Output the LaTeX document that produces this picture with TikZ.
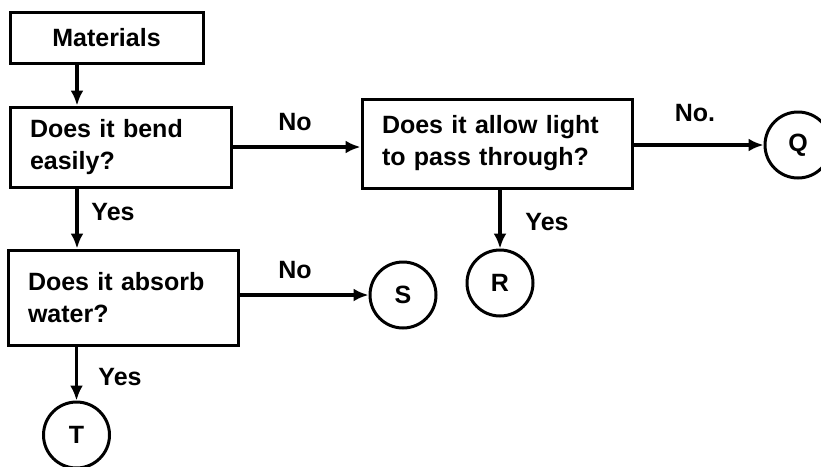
\documentclass[tikz,border=0pt]{standalone}
\usepackage{fontspec}
\setmainfont{Liberation Sans}
\usetikzlibrary{arrows.meta, positioning}

\begin{document}
\begin{tikzpicture}[
    x=1pt, y=-1pt,
    font=\fontsize{25}{32}\selectfont\bfseries,
    % Styles
    startbox/.style={rectangle, draw=black, line width=3pt, minimum width=193pt, minimum height=51pt, align=center},
    askbox/.style={rectangle, draw=black, line width=3pt, align=left, inner xsep=20pt, inner ysep=0pt},
    endcircle/.style={circle, draw=black, line width=3pt, minimum size=66pt, inner sep=0pt},
    arrow/.style={-{Latex[length=15pt, width=13pt]}, line width=3.4pt, color=black},
    lbl/.style={inner sep=0pt}
]

% Page frame
\useasboundingbox (0,0) rectangle (821,466);

% Start box
\node[startbox] (materials) at (106.5,37.5) {Materials};

% Question boxes
\node[askbox, text width=181pt, minimum height=80pt] (bend) at (120.5,147) {Does it bend\\easily?};
\node[askbox, text width=230pt, minimum height=89pt] (light) at (497,143.5) {Does it allow light\\to pass through?};
\node[askbox, text width=190pt, minimum height=95pt] (absorb) at (123,297.5) {Does it absorb\\water?};

% End circles
\node[endcircle] (q) at (798,145) {Q};
\node[endcircle] (r) at (500,283) {R};
\node[endcircle] (s) at (403,295) {S};
\node[endcircle] (t) at (76.5,435) {T};

% Arrows
\coordinate (spine) at (77,0);
\draw[arrow] (materials.south -| spine) -- (bend.north -| spine);
\draw[arrow] (bend.east) -- (bend.east -| light.west);
\draw[arrow] (bend.south -| spine) -- (absorb.north -| spine);
\draw[arrow] (light.east |- q) -- (q.west);
\draw[arrow] (light.south -| r) -- (r.north);
\draw[arrow] (absorb.east |- s) -- (s.west);
\draw[arrow] (absorb.south -| t) -- (t.north);

% Answer labels
\node[lbl] (nobend) at (295,122) {No};
\node[lbl] (yesbend) at (113,212) {Yes};
\node[lbl] (nolight) at (695,113) {No.};
\node[lbl] (yeslight) at (547,222) {Yes};
\node[lbl] (noabsorb) at (295,270) {No};
\node[lbl] (yesabsorb) at (120,377) {Yes};

\end{tikzpicture}
\end{document}
